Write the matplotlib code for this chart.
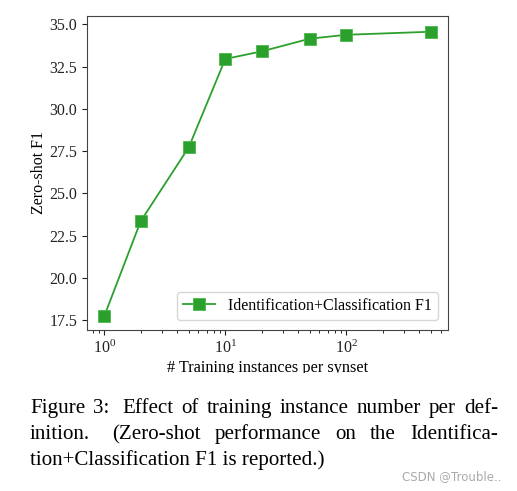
import matplotlib
matplotlib.use('Agg')
import matplotlib.pyplot as plt
from matplotlib.patches import Rectangle

# data
instances = [1, 2, 5, 10, 20, 50, 100, 500]
f1_scores = [17.75, 23.36, 27.74, 32.95, 33.4, 34.15, 34.38, 34.56]
series_label = 'Identification+Classification F1'
y_ticks = [17.5, 20.0, 22.5, 25.0, 27.5, 30.0, 32.5, 35.0]
caption_lines = [
    'Figure 3:  Effect of training instance number per def-',
    'inition.   (Zero-shot performance on the Identifica-',
    'tion+Classification F1 is reported.)',
]
watermark = 'CSDN @Trouble..'

W, H = 517, 491
plt.rcParams['font.family'] = ['Liberation Serif', 'DejaVu Serif']
plt.rcParams['mathtext.fontset'] = 'stix'

fig = plt.figure(figsize=(W / 100, H / 100), dpi=100)
# axes box in pixels: left 87, right 448, top 16, bottom 330
ax = fig.add_axes([87 / W, 1 - 330 / H, (448 - 87) / W, (330 - 16) / H])

ax.plot(instances, f1_scores, color='#2ca02c', marker='s', markersize=9,
        markeredgecolor='#4cb84c', markeredgewidth=0.6,
        linewidth=1.3, label=series_label)
ax.set_xscale('log')
ax.set_xlim(0.72, 692)
ax.set_ylim(16.93, 35.49)
ax.set_yticks(y_ticks)
ax.set_yticklabels(['%.1f' % v for v in y_ticks])
ax.tick_params(labelsize=11.5, colors='#222222')
for s in ax.spines.values():
    s.set_color('#444444')

ax.set_ylabel('Zero-shot F1', fontsize=11.5, labelpad=2)
ax.set_xlabel('# Training instances per synset', fontsize=11.7, labelpad=2.5)
ax.legend(loc='lower right', fontsize=11.5, markerscale=1.0,
          borderaxespad=0.6, handlelength=2.0)

# the label is cut off at the bottom in the reference
fig.patches.append(Rectangle((0, 1 - 382 / H), 1, 9 / H, transform=fig.transFigure,
                             facecolor='white', edgecolor='none', zorder=5))

# caption, justified like the paper
fig.canvas.draw()
renderer = fig.canvas.get_renderer()
cap_size = 15.1
left_px, right_px = 30, 498
baselines = [413, 439, 465]
for i, line in enumerate(caption_lines):
    y = 1 - baselines[i] / H
    if i == len(caption_lines) - 1:
        fig.text(left_px / W, y, line, fontsize=cap_size, va='baseline')
        continue
    words = line.split()
    texts = [fig.text(0, y, w, fontsize=cap_size, va='baseline') for w in words]
    widths = [t.get_window_extent(renderer).width for t in texts]
    # a sentence end gets a wider gap, like TeX
    extra = [1.6 if w.endswith(('.', ':')) else 1.0 for w in words[:-1]]
    unit = (right_px - left_px - sum(widths)) / sum(extra)
    x = left_px
    for k, (t, wd) in enumerate(zip(texts, widths)):
        t.set_x(x / W)
        if k < len(extra):
            x += wd + unit * extra[k]

fig.text(502 / W, 1 - 477 / H, watermark, fontsize=8.5, color='#aaaaaa',
         ha='right', va='center', family=['DejaVu Sans'])

fig.savefig('out.png', dpi=100)
